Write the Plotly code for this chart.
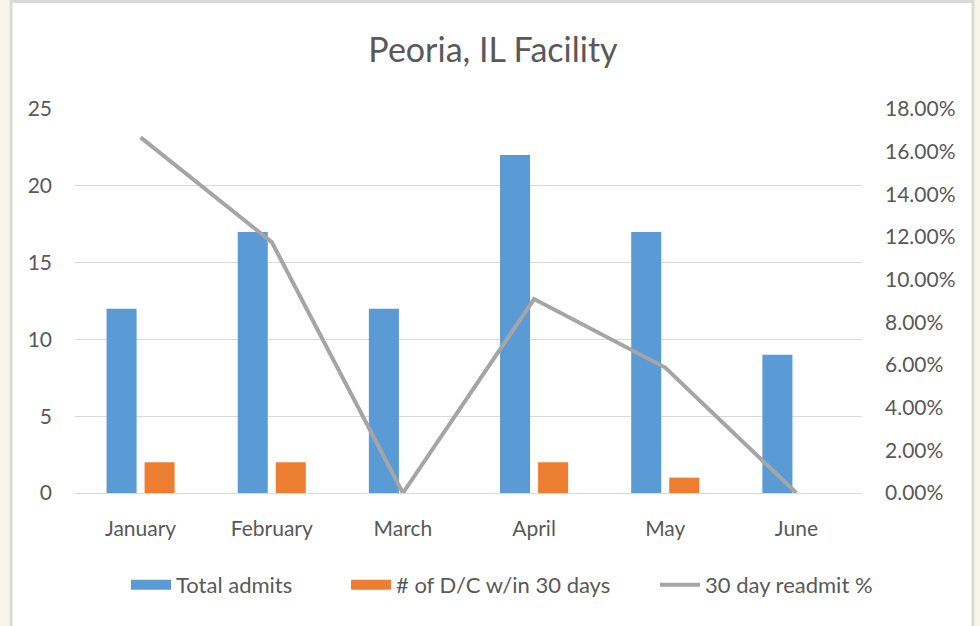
import plotly.graph_objects as go

months = ["January", "February", "March", "April", "May", "June"]
total_admits = [12, 17, 12, 22, 17, 9]
dc_30 = [2, 2, 0, 2, 1, 0]
readmit_pct = [0.1667, 0.1176, 0.0, 0.0909, 0.0588, 0.0]

left_ticks = [0, 5, 10, 15, 20, 25]
right_ticks = [0, 0.02, 0.04, 0.06, 0.08, 0.10, 0.12, 0.14, 0.16, 0.18]

FONT = "Lato, Carlito, 'Open Sans', sans-serif"
TXT = "#595959"
BLUE, ORANGE, GREY = "#5B9BD5", "#ED7D31", "#A5A5A5"

W, H = 980, 626
L, R, T, B = 75, 118, 109, 133
pw, ph = W - L - R, H - T - B

fig = go.Figure()
fig.add_trace(go.Bar(x=months, y=total_admits, name="Total admits",
                     marker=dict(color=BLUE, line=dict(width=0)),
                     showlegend=False, legendgroup="a"))
fig.add_trace(go.Bar(x=months, y=dc_30, name="# of D/C w/in 30 days",
                     marker=dict(color=ORANGE, line=dict(width=0)),
                     showlegend=False, legendgroup="b"))
fig.add_trace(go.Scatter(x=months, y=readmit_pct, name="30 day readmit %",
                         mode="lines", yaxis="y2", showlegend=False,
                         legendgroup="c",
                         line=dict(color=GREY, width=4)))
# legend entries (wide swatches like the original)
fig.add_trace(go.Scatter(x=[None], y=[None], mode="lines", name="Total admits",
                         legendgroup="a", legend="legend",
                         line=dict(color=BLUE, width=14)))
fig.add_trace(go.Scatter(x=[None], y=[None], mode="lines",
                         name="# of D/C w/in 30 days", legendgroup="b",
                         legend="legend2",
                         line=dict(color=ORANGE, width=14)))
fig.add_trace(go.Scatter(x=[None], y=[None], mode="lines",
                         name="30 day readmit %", legendgroup="c",
                         legend="legend3",
                         line=dict(color=GREY, width=4)))

def leg(px_left):
    return dict(orientation="h", x=(px_left - L) / pw, xanchor="left",
                y=-(585 - 493) / ph, yanchor="middle",
                font=dict(size=22, color=TXT), itemwidth=40,
                bgcolor="rgba(0,0,0,0)")

fig.update_layout(
    width=W, height=H,
    margin=dict(l=L, r=R, t=T, b=B, autoexpand=False),
    paper_bgcolor="#F8F6E8",
    plot_bgcolor="rgba(0,0,0,0)",
    barmode="group", bargap=0.42, bargroupgap=0.21,
    font=dict(family=FONT, color=TXT, size=21),
    title=dict(text="Peoria, IL Facility", x=493 / W, xanchor="center",
               y=1 - 50 / H, yanchor="middle",
               font=dict(size=34, color=TXT, family=FONT)),
    xaxis=dict(showgrid=False, showline=True, linecolor="#D9D9D9", linewidth=1,
               ticks="", tickfont=dict(size=21, color=TXT), ticklabelstandoff=17),
    yaxis=dict(range=[0, 25], tickvals=left_ticks, showgrid=True,
               gridcolor="#D9D9D9", gridwidth=1, zeroline=False, showline=False,
               ticks="", tickfont=dict(size=21, color=TXT), ticklabelstandoff=22),
    yaxis2=dict(range=[0, 0.18], tickvals=right_ticks, tickformat=".2%",
                overlaying="y", side="right", showgrid=False, zeroline=False,
                showline=False, ticks="", tickfont=dict(size=21, color=TXT),
                ticklabelstandoff=22),
    legend=leg(126),
    legend2=leg(346),
    legend3=leg(655),
    shapes=[dict(type="rect", xref="paper", yref="paper", layer="below",
                 x0=(11 - L) / pw, x1=(973 - L) / pw,
                 y0=-(B + 20) / ph, y1=(H - B - 1.5) / ph,
                 fillcolor="white", line=dict(color="#D9D9D9", width=3))],
)

fig.write_html("out.html", config={"displayModeBar": False},
               post_script="document.body.style.margin='0';")
